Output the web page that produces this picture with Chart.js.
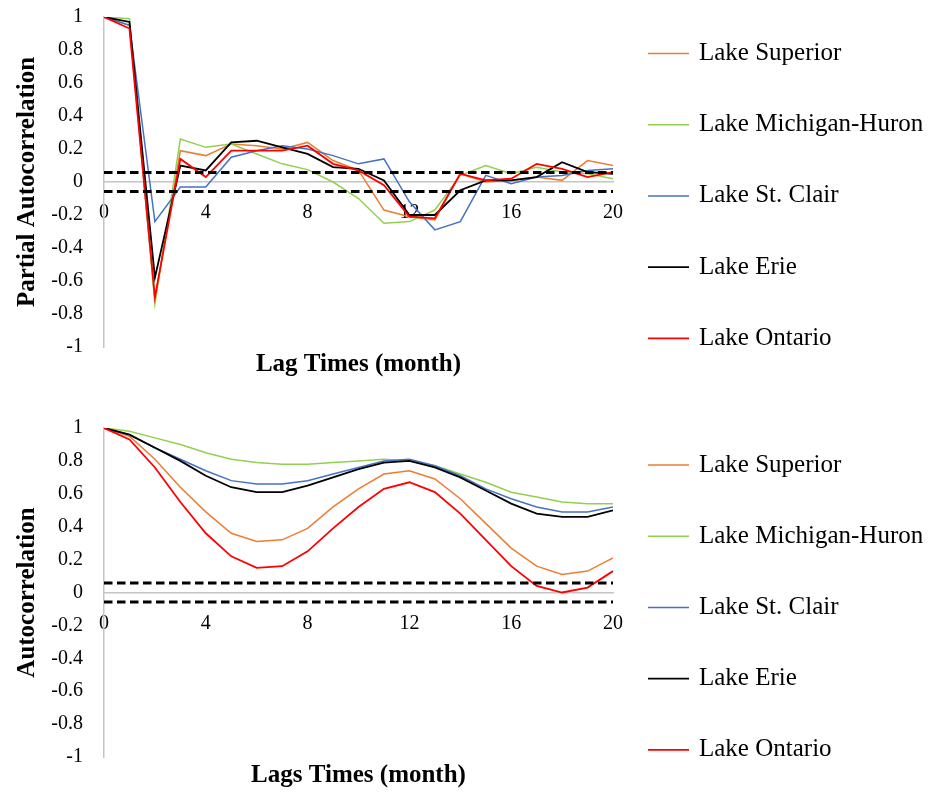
<!DOCTYPE html>
<html>
<head>
<meta charset="utf-8">
<script src="https://cdn.jsdelivr.net/npm/chart.js@4/dist/chart.umd.min.js"></script>
<style>
  body { margin: 0; background: #fff; }
  canvas { display: block; }
</style>
</head>
<body>
<canvas id="pacfChart" width="938" height="396"></canvas>
<canvas id="acfChart" width="938" height="396"></canvas>
<script>
const lags = [0, 1, 2, 3, 4, 5, 6, 7, 8, 9, 10, 11, 12, 13, 14, 15, 16, 17, 18, 19, 20]
const lakeNames = ['Lake Superior', 'Lake Michigan-Huron', 'Lake St. Clair', 'Lake Erie', 'Lake Ontario']
const confBand = [0.057, -0.057]

// partial autocorrelation
const pacfSuperior = [1, 0.95, -0.71, 0.19, 0.16, 0.23, 0.22, 0.20, 0.24, 0.13, 0.07, -0.17, -0.21, -0.23, 0.05, 0.00, 0.01, 0.03, 0.01, 0.13, 0.10]
const pacfMichHuron = [1, 0.99, -0.74, 0.26, 0.21, 0.23, 0.17, 0.11, 0.075, 0.00, -0.10, -0.25, -0.24, -0.17, 0.04, 0.10, 0.05, 0.09, 0.06, 0.05, 0.02]
const pacfStClair = [1, 0.95, -0.24, -0.03, -0.03, 0.15, 0.19, 0.22, 0.20, 0.16, 0.11, 0.14, -0.12, -0.29, -0.24, 0.04, -0.01, 0.03, 0.04, 0.07, 0.08]
const pacfErie = [1, 0.97, -0.58, 0.10, 0.07, 0.24, 0.25, 0.21, 0.17, 0.09, 0.08, 0.01, -0.20, -0.20, -0.05, 0.01, 0.01, 0.03, 0.12, 0.06, 0.05]
const pacfOntario = [1, 0.93, -0.70, 0.14, 0.03, 0.19, 0.19, 0.19, 0.22, 0.11, 0.07, -0.02, -0.21, -0.22, 0.05, 0.01, 0.02, 0.11, 0.08, 0.03, 0.06]

// autocorrelation
const acfSuperior = [1, 0.95, 0.81, 0.64, 0.49, 0.36, 0.31, 0.32, 0.39, 0.52, 0.63, 0.72, 0.74, 0.69, 0.57, 0.42, 0.27, 0.16, 0.11, 0.13, 0.21]
const acfMichHuron = [1, 0.98, 0.94, 0.90, 0.85, 0.81, 0.79, 0.78, 0.78, 0.79, 0.80, 0.81, 0.80, 0.77, 0.72, 0.67, 0.61, 0.58, 0.55, 0.54, 0.54]
const acfStClair = [1, 0.96, 0.88, 0.81, 0.74, 0.68, 0.66, 0.66, 0.68, 0.72, 0.76, 0.80, 0.81, 0.77, 0.71, 0.63, 0.57, 0.52, 0.49, 0.49, 0.52]
const acfErie = [1, 0.96, 0.88, 0.80, 0.71, 0.64, 0.61, 0.61, 0.65, 0.70, 0.75, 0.79, 0.80, 0.76, 0.70, 0.62, 0.54, 0.48, 0.46, 0.46, 0.50]
const acfOntario = [1, 0.93, 0.76, 0.55, 0.36, 0.22, 0.15, 0.16, 0.25, 0.39, 0.52, 0.63, 0.67, 0.61, 0.48, 0.32, 0.16, 0.04, 0.00, 0.03, 0.13]

const lakeColors = ['#ED7D31', '#92D050', '#4472C4', '#000000', '#FF0000']
const lakeWidths = [1.5, 1.5, 1.5, 1.8, 1.8]
const serif = "'Liberation Serif', 'Times New Roman', serif"

const toPoints = (vals) => lags.map((lag, i) => ({ x: lag, y: vals[i] }))

// legend drawn to the right of the plot, one entry per named lake series
const sideLegend = {
  id: 'sideLegend',
  afterDraw(chart, args, opts) {
    const ctx = chart.ctx
    ctx.save()
    ctx.font = '25px ' + serif
    ctx.textBaseline = 'middle'
    ctx.fillStyle = '#000'
    let row = 0
    chart.data.datasets.forEach((ds) => {
      if (!ds.label) return
      const y = opts.top + row * opts.step
      ctx.strokeStyle = ds.borderColor
      ctx.lineWidth = ds.borderWidth
      ctx.beginPath()
      ctx.moveTo(648, y)
      ctx.lineTo(689, y)
      ctx.stroke()
      ctx.fillText(ds.label, 699, y)
      row++
    })
    ctx.restore()
  }
}

const noPadding = (scale) => {
  scale.paddingTop = 0
  scale.paddingBottom = 0
  scale.paddingLeft = 0
  scale.paddingRight = 0
}

const makeChart = (id, series, yTitle, xTitle, pad) => {
  const datasets = series.map((vals, i) => ({
    label: lakeNames[i],
    data: toPoints(vals),
    borderColor: lakeColors[i],
    borderWidth: lakeWidths[i],
    pointRadius: 0,
    tension: 0,
    order: 5 - i
  }))
  confBand.forEach((v) => {
    datasets.push({
      data: toPoints(lags.map(() => v)),
      borderColor: '#000',
      borderWidth: 3,
      borderDash: [8.5, 4.5],
      pointRadius: 0,
      order: 0
    })
  })
  return new Chart(document.getElementById(id), {
    type: 'line',
    data: { datasets: datasets },
    options: {
      responsive: false,
      animation: false,
      layout: { padding: { top: pad.top, right: 325, bottom: 0, left: 0 } },
      scales: {
        x: {
          type: 'linear',
          position: { y: 0 },
          min: 0,
          max: 20,
          grid: { display: false, drawTicks: false },
          border: { color: '#c4c4c4', width: 1.5 },
          ticks: { stepSize: 4, padding: 19, color: '#000', font: { family: serif, size: 20 } },
          afterFit: noPadding
        },
        y: {
          min: -1,
          max: 1,
          grid: { display: false, drawTicks: false },
          border: { color: '#c4c4c4', width: 1.5 },
          ticks: {
            stepSize: 0.2,
            padding: 21,
            color: '#000',
            font: { family: serif, size: 20 },
            callback: (v) => String(Math.round(v * 10) / 10)
          },
          title: {
            display: true,
            text: yTitle,
            color: '#000',
            padding: { top: 13, bottom: 0 },
            font: { family: serif, size: 25, weight: 'bold' }
          },
          afterFit: (scale) => {
            noPadding(scale)
            scale.width = 104
          }
        }
      },
      plugins: {
        legend: { display: false },
        tooltip: { enabled: false },
        title: {
          display: true,
          position: 'bottom',
          fullSize: false,
          text: xTitle,
          color: '#000',
          padding: { top: pad.titleTop, bottom: pad.titleBottom },
          font: { family: serif, size: 25, weight: 'bold' }
        },
        sideLegend: { top: pad.legendTop, step: 71.2 }
      }
    },
    plugins: [sideLegend]
  })
}

makeChart('pacfChart',
  [pacfSuperior, pacfMichHuron, pacfStClair, pacfErie, pacfOntario],
  'Partial Autocorrelation', 'Lag Times (month)',
  { top: 17, titleTop: 3, titleBottom: 16, legendTop: 53.5 })

makeChart('acfChart',
  [acfSuperior, acfMichHuron, acfStClair, acfErie, acfOntario],
  'Autocorrelation', 'Lags Times (month)',
  { top: 32, titleTop: 4, titleBottom: 1, legendTop: 69 })
</script>
</body>
</html>
